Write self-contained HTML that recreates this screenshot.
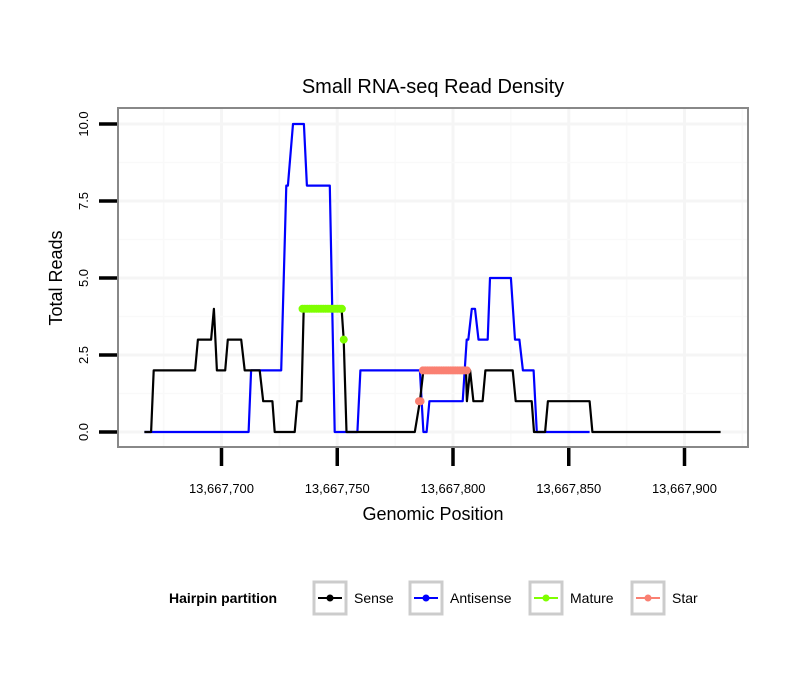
<!DOCTYPE html>
<html><head><meta charset="utf-8">
<style>
body{margin:0;background:#fff;}
svg{display:block;font-family:"Liberation Sans",sans-serif;}
</style></head>
<body>
<svg id="chart" width="810" height="690" viewBox="0 0 810 690">
<rect width="810" height="690" fill="#fff"/>
<text x="433" y="93" font-size="20" text-anchor="middle">Small RNA-seq Read Density</text>
<g id="grid"></g>
<g id="series"></g>
<rect x="118" y="108" width="630" height="339" fill="none" stroke="#888" stroke-width="2"/>
<g id="axes"></g>
<text x="433" y="520" font-size="18" text-anchor="middle">Genomic Position</text>
<text transform="translate(62,278) rotate(-90)" font-size="18" text-anchor="middle">Total Reads</text>
<g id="legend">
<text x="169" y="603" font-size="14" font-weight="bold">Hairpin partition</text>
</g>
</svg>
<script>
const xTicks=[100,150,200,250,300];
const xTickLabels=["13,667,700","13,667,750","13,667,800","13,667,850","13,667,900"];
const yTicks=[0,2.5,5,7.5,10];
const yTickLabels=["0.0","2.5","5.0","7.5","10.0"];
// positions are offsets from 13,667,600
const senseX=[66.7,69.6,70.7,88.6,89.8,95.5,96.7,98.0,101.6,102.7,108.5,110,116.5,118,122,123,131.6,132.8,134.5,135.5,151.9,152.8,154,183.5,185.7,187.2,205.6,206,207.4,208.8,212.8,214,225.8,227.1,234,235,239.8,241,259,260.2,315.6];
const senseY=[0,0,2,2,3,3,4,2,2,3,3,2,2,1,1,0,0,1,1,4,4,3,0,0,1,2,2,1,2,1,1,2,2,1,1,0,0,1,1,0,0];
const antiX=[66.7,111.7,112.8,125.8,128,128.7,130.9,135.6,136.9,146.8,148.9,158.7,160,185.7,187.2,188.6,189.8,204.2,205.9,206.6,208.1,209.5,211,215,216,225,226.8,228.7,230.2,234.8,236.2,259];
const antiY=[0,0,2,2,8,8,10,10,8,8,0,0,2,2,0,0,1,1,3,3,4,4,3,3,5,5,3,3,2,2,0,0];
const matureX=[135,136,137,138,139,140,141,142,143,144,145,146,147,148,149,150,151,152,152.8];
const matureY=[4,4,4,4,4,4,4,4,4,4,4,4,4,4,4,4,4,4,3];
const starX=[185.3,186,187,188,189,190,191,192,193,194,195,196,197,198,199,200,201,202,203,204,205,206];
const starY=[1,1,2,2,2,2,2,2,2,2,2,2,2,2,2,2,2,2,2,2,2,2];

const NS="http://www.w3.org/2000/svg";
const sx=p=>221.5+(p-100)*2.315;
const sy=v=>432-v*30.8;
function mk(tag,attrs,parent){const e=document.createElementNS(NS,tag);for(const k in attrs)e.setAttribute(k,attrs[k]);parent.appendChild(e);return e;}
const grid=document.getElementById('grid'),axes=document.getElementById('axes'),series=document.getElementById('series'),legend=document.getElementById('legend');
for(let i=0;i<xTicks.length;i++){
  const g=mk('line',{x1:sx(xTicks[i]),x2:sx(xTicks[i]),y1:108,y2:447,stroke:'#f5f5f5','stroke-width':3},grid);
  
  
  const m=sx(xTicks[i]-25);
  if(m>118){const gm=mk('line',{x1:m,x2:m,y1:108,y2:447,stroke:'#f9f9f9','stroke-width':1.5},grid);
  
  }
}
{const m=sx(325);const gm=mk('line',{x1:m,x2:m,y1:108,y2:447,stroke:'#f9f9f9','stroke-width':1.5},grid);

}
for(let i=0;i<yTicks.length;i++){
  const g=mk('line',{x1:118,x2:748,y1:sy(yTicks[i]),y2:sy(yTicks[i]),stroke:'#f5f5f5','stroke-width':3},grid);
  
  
  if(i<yTicks.length-1){const gm=mk('line',{x1:118,x2:748,y1:sy(yTicks[i]+1.25),y2:sy(yTicks[i]+1.25),stroke:'#f9f9f9','stroke-width':1.5},grid);
  
  }
}
for(let i=0;i<xTicks.length;i++){
  const t=mk('line',{x1:sx(xTicks[i]),x2:sx(xTicks[i]),y1:448,y2:466,stroke:'#000','stroke-width':3.5},axes);
  
  
  const l=mk('text',{x:sx(xTicks[i]),y:493,'font-size':13,'text-anchor':'middle'},axes);
  l.textContent=xTickLabels[i];
  
  
}
for(let i=0;i<yTicks.length;i++){
  const t=mk('line',{x1:99,x2:117,y1:sy(yTicks[i]),y2:sy(yTicks[i]),stroke:'#000','stroke-width':3.5},axes);
  
  
  const l=mk('text',{transform:`translate(88,${sy(yTicks[i])}) rotate(-90)`,'font-size':13,'text-anchor':'middle'},axes);
  l.textContent=yTickLabels[i];
  
  
}
function line(xs,ys,color,name){
  const d=xs.map((x,i)=>(i?'L':'M')+sx(x).toFixed(1)+','+sy(ys[i]).toFixed(1)).join('');
  const p=mk('path',{d:d,fill:'none',stroke:color,'stroke-width':2.2,'stroke-linejoin':'round'},series);
  
  
}
function pts(xs,ys,color,name){
  xs.forEach((x,i)=>{const c=mk('circle',{cx:sx(x),cy:sy(ys[i]),r:4,fill:color},series);
  
  });
}
line(antiX,antiY,'#0000ff','antisense-line');
line(senseX,senseY,'#000000','sense-line');
pts(matureX,matureY,'#7fff00','mature-point');
pts(starX,starY,'#fa8072','star-point');
const keys=[["Sense","#000",314],["Antisense","#0000ff",410],["Mature","#7fff00",530],["Star","#fa8072",632]];
keys.forEach(k=>{
  const g=mk('g',{},legend);
  
  
  mk('rect',{x:k[2],y:582,width:32,height:32,fill:'#fff',stroke:'#ccc','stroke-width':3},g);
  mk('line',{x1:k[2]+4,x2:k[2]+28,y1:598,y2:598,stroke:k[1],'stroke-width':2},g);
  mk('circle',{cx:k[2]+16,cy:598,r:3.5,fill:k[1]},g);
  const t=mk('text',{x:k[2]+40,y:603,'font-size':14},g);
  t.textContent=k[0];
});
</script>
</body></html>
